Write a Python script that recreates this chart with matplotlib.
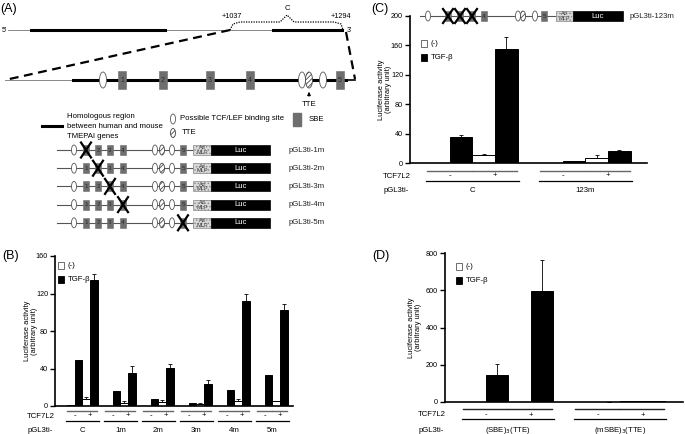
import matplotlib
matplotlib.use("Agg")
import matplotlib.pyplot as plt
from matplotlib.patches import Ellipse, Rectangle
import numpy as np

plt.rcParams['font.family'] = ['Liberation Sans', 'DejaVu Sans']
plt.rcParams['hatch.linewidth'] = 0.6

# ---------------- data ----------------
B_groups = ['C', '1m', '2m', '3m', '4m', '5m']
B_neg_noTCF = [0.6, 0.4, 0.4, 0.4, 0.4, 0.4]
B_tgf_noTCF = [49, 16, 7, 3, 17, 33]
B_neg_TCF = [8, 3, 4, 2, 5, 5]
B_tgf_TCF = [134, 35, 41, 23, 112, 102]
B_neg_TCF_err = [2, 2, 2, 1, 2, 0.5]
B_tgf_TCF_err = [7, 8, 4, 5, 8, 7]
B_yticks = [0, 40, 80, 120, 160]

C_groups = ['C', '123m']
C_neg_noTCF = [0.6, 0.6]
C_tgf_noTCF = [35, 2.5]
C_neg_TCF = [11, 7]
C_tgf_TCF = [155, 17]
C_tgf_noTCF_err = [2.5, 0.5]
C_neg_TCF_err = [1.5, 4]
C_tgf_TCF_err = [17, 1]
C_yticks = [0, 40, 80, 120, 160, 200]

D_groups = ['(SBE)$_3$(TTE)', '(mSBE)$_3$(TTE)']
D_neg_noTCF = [0, 0]
D_tgf_noTCF = [145, 0.5]
D_neg_TCF = [0.5, 3]
D_tgf_TCF = [597, 5]
D_tgf_noTCF_err = [60, 0]
D_tgf_TCF_err = [168, 1]
D_yticks = [0, 200, 400, 600, 800]

constructs = ['pGL3ti-1m', 'pGL3ti-2m', 'pGL3ti-3m', 'pGL3ti-4m', 'pGL3ti-5m']

W, H = 685, 434
fig = plt.figure(figsize=(W / 100, H / 100), dpi=100)
bg = fig.add_axes([0, 0, 1, 1])
bg.set_xlim(0, W)
bg.set_ylim(H, 0)
bg.axis('off')

FS = 5.6
EC = '#555555'


def ellipse(x, y, w, h, hatch=None):
    bg.add_patch(Ellipse((x, y), w, h, fc='white', ec=EC if hatch is None else '#444', lw=0.6,
                         hatch=hatch, zorder=3))


def sbe(x, y, w, h, label=None, fs=5):
    bg.add_patch(Rectangle((x - w / 2, y - h / 2), w, h, fc='#6e6e6e', ec='#6e6e6e', lw=0.4, zorder=3))
    if label:
        bg.text(x, y, label, ha='center', va='center', fontsize=fs, color='#2a2a2a', zorder=4)


def xmark(x, y, w, h):
    bg.plot([x - w / 2, x + w / 2], [y - h / 2, y + h / 2], color='black', lw=1.6, zorder=5)
    bg.plot([x - w / 2, x + w / 2], [y + h / 2, y - h / 2], color='black', lw=1.6, zorder=5)


def admlp_luc(x0, x1, x2, y, h):
    bg.add_patch(Rectangle((x0, y - h / 2), x1 - x0, h, fc='#d8d8d8', ec='#888', lw=0.5,
                           hatch='.....', zorder=3))
    bg.text((x0 + x1) / 2, y - h * 0.22, 'Ad', ha='center', va='center', fontsize=4, color='#444', zorder=4)
    bg.text((x0 + x1) / 2, y + h * 0.25, 'MLP', ha='center', va='center', fontsize=4, color='#444', zorder=4)
    bg.add_patch(Rectangle((x1, y - h / 2), x2 - x1, h, fc='black', ec='black', lw=0.5, zorder=3))
    bg.text((x1 + x2) / 2, y, 'Luc', ha='center', va='center', fontsize=FS, color='white', zorder=4)


# ---------------- Panel A ----------------
bg.text(0, 9, '(A)', fontsize=9, va='center', ha='left')
# top genomic line
bg.text(2, 31, "5'", fontsize=5, va='center', ha='left')
bg.plot([8, 343], [30, 30], color='#888', lw=0.7)
bg.plot([31, 165], [30, 30], color='black', lw=2.2)
bg.plot([273, 342], [30, 30], color='black', lw=2.2)
bg.text(347, 31, "3'", fontsize=5, va='center', ha='left')
# dotted bracket
bx = [230, 233, 240, 280, 287, 294, 334, 341, 343]
by = [30, 24, 22, 22, 15, 22, 22, 24, 30]
bg.plot(bx, by, color='black', lw=0.9, ls=(0, (1, 1)))
bg.text(232, 17, '+1037', fontsize=5.2, ha='center', va='center')
bg.text(287, 8, 'C', fontsize=5.5, ha='center', va='center')
bg.text(341, 17, '+1294', fontsize=5.2, ha='center', va='center')
# dashed zoom lines
bg.plot([230, 5], [30, 80], color='black', lw=1.6, ls=(0, (4, 2.5)))
bg.plot([346, 355], [32, 79], color='black', lw=1.6, ls=(0, (4, 2.5)))
# zoomed line
bg.plot([5, 73], [80, 80], color='#888', lw=0.7)
bg.plot([73, 346], [80, 80], color='black', lw=2.2)
bg.plot([346, 355], [80, 80], color='black', lw=1.2)
for xx in [103, 302, 323]:
    ellipse(xx, 80, 7, 16)
ellipse(309, 80, 7, 16, hatch='///////')
for xx, lab in zip([122, 163, 210, 250, 340], ['1', '2', '3', '4', '5']):
    sbe(xx, 80, 8, 18, lab, fs=5)
bg.annotate('', xy=(309, 89), xytext=(309, 99),
            arrowprops=dict(arrowstyle='-|>', lw=0.7, color='black', mutation_scale=5))
bg.text(309, 104, 'TTE', fontsize=FS, ha='center', va='center')

# legend
bg.plot([42, 62], [126, 126], color='black', lw=2.2)
bg.text(67, 117, 'Homologous region', fontsize=FS, va='center')
bg.text(67, 126.5, 'between human and mouse', fontsize=FS, va='center')
bg.text(67, 136, 'TMEPAI genes', fontsize=FS, va='center')
ellipse(173, 119, 5, 10)
bg.text(180, 119, 'Possible TCF/LEF binding site', fontsize=FS, va='center')
ellipse(173, 133, 5, 9, hatch='//////')
bg.text(182, 133, 'TTE', fontsize=FS, va='center')
bg.add_patch(Rectangle((293, 113), 8, 13, fc='#6e6e6e', ec='#6e6e6e'))
bg.text(309, 119.5, 'SBE', fontsize=FS, va='center')

# constructs
box_x = [86, 98, 110, 123, 183]
for i, name in enumerate(constructs):
    y = 150 + 18.2 * i
    bg.plot([57, 193], [y, y], color='#555', lw=0.8, zorder=1)
    ellipse(74, y, 5, 10)
    ellipse(155, y, 5, 10)
    ellipse(162, y, 5, 10, hatch='//////')
    ellipse(172, y, 5, 10)
    for j, bxx in enumerate(box_x):
        sbe(bxx, y, 6, 10, str(j + 1), fs=4.5)
    xmark(box_x[i], y, 10, 15)
    admlp_luc(193, 211, 270, y, 10)
    bg.text(289, y, name, fontsize=FS, va='center', color='#222')

# Panel C schematic
yc = 16
bg.plot([420, 556], [yc, yc], color='#555', lw=0.8, zorder=1)
ellipse(428, yc, 5, 10)
for xx in [448, 460, 472]:
    sbe(xx, yc, 6, 10)
    xmark(xx, yc, 10, 14)
sbe(484, yc, 6, 10, '4', fs=4.5)
ellipse(518, yc, 5, 10)
ellipse(523, yc, 5, 10, hatch='//////')
ellipse(535, yc, 5, 10)
sbe(544, yc, 6, 10, '5', fs=4.5)
admlp_luc(556, 573, 623, yc, 10)
bg.text(630, yc, 'pGL3ti-123m', fontsize=FS, va='center', color='#222')

bg.text(2, 256, '(B)', fontsize=9, va='center', ha='left')
bg.text(371, 9, '(C)', fontsize=9, va='center', ha='left')
bg.text(372, 256, '(D)', fontsize=9, va='center', ha='left')


# ---------------- bar panels ----------------
def bar_panel(px_l, px_t, px_r, px_b, ylim, yticks, groups, vals, errs, g0, gsp, bw,
              leg_xy, ylab_x, tcf_y, tcf_col, label_x, grp_fs):
    ax = fig.add_axes([px_l / W, 1 - px_b / H, (px_r - px_l) / W, (px_b - px_t) / H])
    ax.set_facecolor('none')
    ax.set_xlim(0, px_r - px_l)
    ax.set_ylim(0, ylim)
    for s in ['top', 'right']:
        ax.spines[s].set_visible(False)
    ax.spines['left'].set_linewidth(1.2)
    ax.spines['bottom'].set_linewidth(1.2)
    ax.set_xticks([])
    ax.set_yticks(yticks)
    ax.set_yticklabels([str(t) for t in yticks], fontsize=5.2)
    ax.tick_params(axis='y', direction='out', length=3.5, width=1.0, pad=1.5)
    colors = ['white', 'black', 'white', 'black']
    ng = len(groups)
    for j in range(4):
        xs = np.array([g0 + gsp * i + bw * j for i in range(ng)])
        ax.bar(xs, vals[j], width=bw, align='edge', color=colors[j], edgecolor='black', lw=0.7, zorder=2)
        if errs[j] is not None:
            ax.errorbar(xs + bw / 2, vals[j], yerr=[np.zeros(ng), errs[j]], fmt='none', ecolor='black',
                        elinewidth=0.6, capsize=1.5, capthick=0.6, zorder=3)
    # legend squares (in figure px via bg)
    lx, ly = leg_xy
    bg.add_patch(Rectangle((lx, ly - 3.5), 6, 7, fc='white', ec='#555', lw=0.6))
    bg.text(lx + 10, ly, '(-)', fontsize=FS, va='center')
    bg.add_patch(Rectangle((lx, ly + 10.5), 6, 7, fc='black', ec='black', lw=0.6))
    bg.text(lx + 10, ly + 14, 'TGF-β', fontsize=FS, va='center')
    # y label
    bg.text(ylab_x, (px_t + px_b) / 2, 'Luciferase activity\n(arbitrary unit)', rotation=90,
            fontsize=5.4, ha='center', va='center', linespacing=1.1)
    # below-axis annotations
    y1, y2, y3, y4 = tcf_y
    bg.text(label_x, y2, 'TCF7L2', fontsize=FS, va='center', ha='left')
    bg.text(label_x + 1, y4, 'pGL3ti-', fontsize=FS, va='center', ha='left')
    for i, gname in enumerate(groups):
        gx = px_l + g0 + gsp * i
        for k, sign in enumerate(['-', '+']):
            a = gx + 2 * bw * k + 0.5
            b = gx + 2 * bw * (k + 1) - 0.5
            bg.plot([a, b], [y1, y1], color=tcf_col, lw=1.0)
            bg.text((a + b) / 2, y2, sign, fontsize=FS, ha='center', va='center')
        bg.plot([gx - 0.5, gx + 4 * bw + 1.5], [y3, y3], color='black', lw=0.9)
        bg.text(gx + 2 * bw, y4, gname, fontsize=grp_fs, ha='center', va='center')
    return ax


bar_panel(55, 256, 293, 406, 160, B_yticks, B_groups,
          [B_neg_noTCF, B_tgf_noTCF, B_neg_TCF, B_tgf_TCF],
          [None, None, B_neg_TCF_err, B_tgf_TCF_err],
          12, 38, 7.7, (58, 265.5), 31, (411, 416, 421, 430), '#666', 27, FS)

bar_panel(410, 16, 647, 163, 200, C_yticks, C_groups,
          [C_neg_noTCF, C_tgf_noTCF, C_neg_TCF, C_tgf_TCF],
          [None, C_tgf_noTCF_err, C_neg_TCF_err, C_tgf_TCF_err],
          17, 113, 22.7, (421, 43.5), 385, (171, 176, 181, 191), '#666', 383, FS)

bar_panel(445, 253, 683, 402, 800, D_yticks, D_groups,
          [D_neg_noTCF, D_tgf_noTCF, D_neg_TCF, D_tgf_TCF],
          [None, D_tgf_noTCF_err, None, D_tgf_TCF_err],
          18, 112, 22.5, (456, 266.5), 415, (409, 415, 419, 430), '#222', 418, FS)

fig.savefig('out.png', dpi=100)
